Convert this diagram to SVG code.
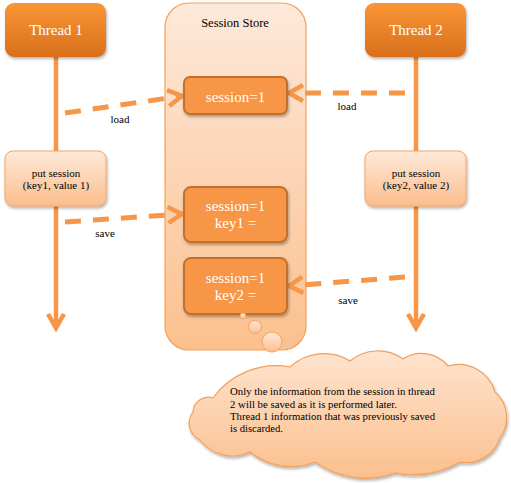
<svg xmlns="http://www.w3.org/2000/svg" width="511" height="483" viewBox="0 0 511 483" font-family="Liberation Serif, Tinos, Times New Roman, Times, DejaVu Serif, serif">
<style>
.thr{font-size:15px;fill:#fff;text-anchor:middle;}
.inn{font-size:15px;fill:#fff;text-anchor:middle;}
.put{font-size:11px;fill:#000;text-anchor:middle;}
.lbl{font-size:11px;fill:#000;text-anchor:middle;}
.note{font-size:11px;fill:#000;}
.life{stroke:#f79646;stroke-width:4.5;fill:none;}
.dash{stroke:#f79646;stroke-width:5;fill:none;stroke-dasharray:16 12;}
.innbox{fill:#f79646;stroke:#c2702f;stroke-width:2;}
.bub{fill:url(#gLight);stroke:#f4a261;stroke-width:1;}
</style>
<defs>
<linearGradient id="gThread" x1="0" y1="0" x2="0" y2="1">
<stop offset="0" stop-color="#fb9636"/>
<stop offset="1" stop-color="#d86f1c"/>
</linearGradient>
<linearGradient id="gLight" x1="0" y1="0" x2="0" y2="1">
<stop offset="0" stop-color="#fee9da"/>
<stop offset="1" stop-color="#fbbe8c"/>
</linearGradient>
<linearGradient id="gStore" x1="0" y1="0" x2="0" y2="1">
<stop offset="0" stop-color="#fee9da"/>
<stop offset="1" stop-color="#fbc08e"/>
</linearGradient>
<linearGradient id="gCloud" x1="0" y1="0" x2="0" y2="1">
<stop offset="0" stop-color="#fee4cf"/>
<stop offset="1" stop-color="#fbbf8d"/>
</linearGradient>
<filter id="sh" x="-10%" y="-10%" width="130%" height="140%">
<feDropShadow dx="1" dy="2" stdDeviation="1.5" flood-color="#000" flood-opacity="0.3"/>
</filter>
<marker id="chev" markerUnits="userSpaceOnUse" markerWidth="20" markerHeight="22" refX="16" refY="11" orient="auto" overflow="visible">
<path d="M2,3 L16,11 L2,19" fill="none" stroke="#f79646" stroke-width="4.5" stroke-dasharray="none" stroke-linejoin="miter"/>
</marker>
</defs>

<g id="session-store">
<rect x="165" y="3" width="141" height="347" rx="24" ry="24" fill="url(#gStore)" stroke="#f3a05a" stroke-width="1.2"/>
<text x="235" y="27" font-size="12.5" fill="#000" text-anchor="middle">Session Store</text>
</g>

<g id="connectors">
<line class="life" x1="56" y1="57" x2="56" y2="151"/>
<line class="life" x1="56" y1="206" x2="56" y2="328" marker-end="url(#chev)"/>
<line class="life" x1="416" y1="57" x2="416" y2="151"/>
<line class="life" x1="416" y1="206" x2="416" y2="328" marker-end="url(#chev)"/>
<line class="dash" x1="65" y1="113" x2="182" y2="96" marker-end="url(#chev)"/>
<line class="dash" x1="405" y1="93" x2="289" y2="93" marker-end="url(#chev)"/>
<line class="dash" x1="65" y1="222" x2="182" y2="214" marker-end="url(#chev)"/>
<line class="dash" x1="405" y1="277" x2="289" y2="286" marker-end="url(#chev)"/>
<text class="lbl" x="120" y="123">load</text>
<text class="lbl" x="347" y="110">load</text>
<text class="lbl" x="105" y="237">save</text>
<text class="lbl" x="348" y="304">save</text>
</g>

<g id="thread1">
<rect x="5" y="3" width="101" height="54" rx="9" ry="9" fill="url(#gThread)" filter="url(#sh)"/>
<text class="thr" x="56" y="35">Thread 1</text>
</g>
<g id="thread2">
<rect x="365" y="3" width="101" height="54" rx="9" ry="9" fill="url(#gThread)" filter="url(#sh)"/>
<text class="thr" x="416" y="35">Thread 2</text>
</g>

<g id="put1">
<rect x="5" y="151" width="101" height="55" rx="8" ry="8" fill="url(#gLight)" stroke="#f5a565" stroke-width="1" filter="url(#sh)"/>
<text class="put" x="56" y="177">put session</text>
<text class="put" x="56" y="189">(key1, value 1)</text>
</g>
<g id="put2">
<rect x="365" y="151" width="101" height="55" rx="8" ry="8" fill="url(#gLight)" stroke="#f5a565" stroke-width="1" filter="url(#sh)"/>
<text class="put" x="416" y="177">put session</text>
<text class="put" x="416" y="189">(key2, value 2)</text>
</g>

<g id="session-a">
<rect class="innbox" x="184" y="77" width="103" height="37" rx="6" ry="6" filter="url(#sh)"/>
<text class="inn" x="235.5" y="102">session=1</text>
</g>
<g id="session-b">
<rect class="innbox" x="184" y="187" width="103" height="55" rx="7" ry="7" filter="url(#sh)"/>
<text class="inn" x="235.5" y="211">session=1</text>
<text class="inn" x="235.5" y="228">key1 =</text>
</g>
<g id="session-c">
<rect class="innbox" x="184" y="258" width="103" height="56" rx="7" ry="7" filter="url(#sh)"/>
<text class="inn" x="235.5" y="283">session=1</text>
<text class="inn" x="235.5" y="300">key2 =</text>
</g>

<g id="note">
<circle class="bub" cx="243" cy="316" r="3"/>
<circle class="bub" cx="255" cy="327" r="6.5"/>
<circle class="bub" cx="272" cy="342" r="10"/>
<path d="M213,398 A78,78 0 0 1 290,367 A50,50 0 0 1 350,361 A43.5,43.5 0 0 1 403,359 A34,34 0 0 1 448,366 A38,38 0 0 1 495,392 A34,34 0 0 1 500,438 A35,35 0 0 1 460,462 A94,94 0 0 1 395,473 A87,87 0 0 1 315,462 A65,65 0 0 1 250,452 A41,41 0 0 1 200,440 A18.4,18.4 0 0 1 193,412 A15.4,15.4 0 0 1 213,398 Z" fill="url(#gCloud)" stroke="#f2a05c" stroke-width="1.2" filter="url(#sh)"/>
<text class="note" x="230" y="395" textLength="205" lengthAdjust="spacingAndGlyphs">Only the information from the session in thread</text>
<text class="note" x="230" y="408" textLength="167" lengthAdjust="spacingAndGlyphs">2 will be saved as it is performed later.</text>
<text class="note" x="230" y="420" textLength="205" lengthAdjust="spacingAndGlyphs">Thread 1 information that was previously saved</text>
<text class="note" x="230" y="432" textLength="53" lengthAdjust="spacingAndGlyphs">is discarded.</text>
</g>
</svg>
